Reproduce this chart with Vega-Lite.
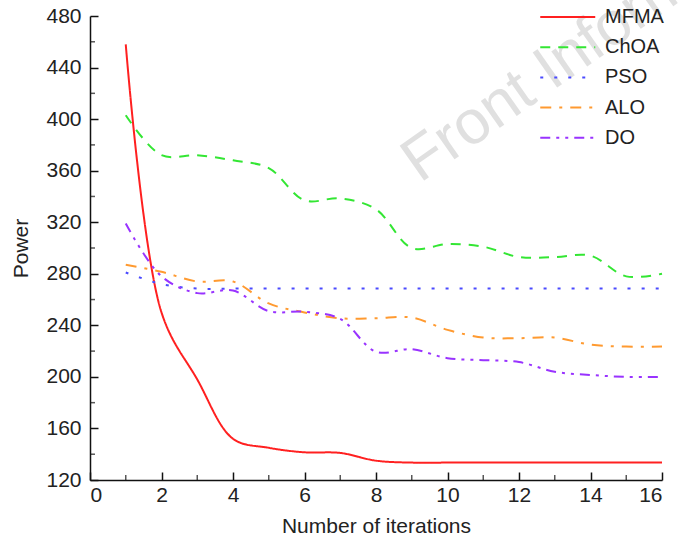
{
  "$schema": "https://vega.github.io/schema/vega-lite/v6.json",
  "width": 572,
  "height": 464,
  "autosize": {"type": "none"},
  "padding": {"left": 90, "top": 16, "right": 16, "bottom": 59},
  "background": "white",
  "config": {
    "view": {"stroke": null},
    "font": "Liberation Sans",
    "axis": {
      "grid": false,
      "domainColor": "#111",
      "domainWidth": 1.5,
      "tickColor": "#111",
      "tickWidth": 1.5,
      "tickSize": -8,
      "labelFont": "Liberation Sans",
      "labelFontSize": 21,
      "labelColor": "#222",
      "titleFont": "Liberation Sans",
      "titleFontSize": 21,
      "titleFontWeight": "normal",
      "titleColor": "#222"
    }
  },
  "datasets": {
    "series": [
      {"iter": 1, "power": 458, "alg": "MFMA"},
      {"iter": 2, "power": 250, "alg": "MFMA"},
      {"iter": 3, "power": 198, "alg": "MFMA"},
      {"iter": 4, "power": 152, "alg": "MFMA"},
      {"iter": 5, "power": 145, "alg": "MFMA"},
      {"iter": 6, "power": 141.5, "alg": "MFMA"},
      {"iter": 7, "power": 141, "alg": "MFMA"},
      {"iter": 8, "power": 135, "alg": "MFMA"},
      {"iter": 9, "power": 133.5, "alg": "MFMA"},
      {"iter": 10, "power": 133.5, "alg": "MFMA"},
      {"iter": 11, "power": 133.5, "alg": "MFMA"},
      {"iter": 12, "power": 133.5, "alg": "MFMA"},
      {"iter": 13, "power": 133.5, "alg": "MFMA"},
      {"iter": 14, "power": 133.5, "alg": "MFMA"},
      {"iter": 15, "power": 133.5, "alg": "MFMA"},
      {"iter": 16, "power": 133.5, "alg": "MFMA"},
      {"iter": 1, "power": 403, "alg": "ChOA"},
      {"iter": 2, "power": 372, "alg": "ChOA"},
      {"iter": 3, "power": 372, "alg": "ChOA"},
      {"iter": 4, "power": 368, "alg": "ChOA"},
      {"iter": 5, "power": 362, "alg": "ChOA"},
      {"iter": 6, "power": 337, "alg": "ChOA"},
      {"iter": 7, "power": 338.5, "alg": "ChOA"},
      {"iter": 8, "power": 330, "alg": "ChOA"},
      {"iter": 9, "power": 300, "alg": "ChOA"},
      {"iter": 10, "power": 303, "alg": "ChOA"},
      {"iter": 11, "power": 301, "alg": "ChOA"},
      {"iter": 12, "power": 293, "alg": "ChOA"},
      {"iter": 13, "power": 293, "alg": "ChOA"},
      {"iter": 14, "power": 294, "alg": "ChOA"},
      {"iter": 15, "power": 278, "alg": "ChOA"},
      {"iter": 16, "power": 280, "alg": "ChOA"},
      {"iter": 1, "power": 281, "alg": "PSO"},
      {"iter": 2, "power": 272, "alg": "PSO"},
      {"iter": 3, "power": 268.5, "alg": "PSO"},
      {"iter": 4, "power": 268.5, "alg": "PSO"},
      {"iter": 5, "power": 268.5, "alg": "PSO"},
      {"iter": 6, "power": 268.5, "alg": "PSO"},
      {"iter": 7, "power": 268.5, "alg": "PSO"},
      {"iter": 8, "power": 268.5, "alg": "PSO"},
      {"iter": 9, "power": 268.5, "alg": "PSO"},
      {"iter": 10, "power": 268.5, "alg": "PSO"},
      {"iter": 11, "power": 268.5, "alg": "PSO"},
      {"iter": 12, "power": 268.5, "alg": "PSO"},
      {"iter": 13, "power": 268.5, "alg": "PSO"},
      {"iter": 14, "power": 268.5, "alg": "PSO"},
      {"iter": 15, "power": 268.5, "alg": "PSO"},
      {"iter": 16, "power": 268.5, "alg": "PSO"},
      {"iter": 1, "power": 287, "alg": "ALO"},
      {"iter": 2, "power": 281.5, "alg": "ALO"},
      {"iter": 3, "power": 274, "alg": "ALO"},
      {"iter": 4, "power": 274, "alg": "ALO"},
      {"iter": 5, "power": 257, "alg": "ALO"},
      {"iter": 6, "power": 250, "alg": "ALO"},
      {"iter": 7, "power": 245.5, "alg": "ALO"},
      {"iter": 8, "power": 245.5, "alg": "ALO"},
      {"iter": 9, "power": 246, "alg": "ALO"},
      {"iter": 10, "power": 236.5, "alg": "ALO"},
      {"iter": 11, "power": 230.5, "alg": "ALO"},
      {"iter": 12, "power": 230, "alg": "ALO"},
      {"iter": 13, "power": 230.5, "alg": "ALO"},
      {"iter": 14, "power": 225, "alg": "ALO"},
      {"iter": 15, "power": 223.5, "alg": "ALO"},
      {"iter": 16, "power": 223.5, "alg": "ALO"},
      {"iter": 1, "power": 319, "alg": "DO"},
      {"iter": 2, "power": 278, "alg": "DO"},
      {"iter": 3, "power": 265, "alg": "DO"},
      {"iter": 4, "power": 267, "alg": "DO"},
      {"iter": 5, "power": 251, "alg": "DO"},
      {"iter": 6, "power": 250.5, "alg": "DO"},
      {"iter": 7, "power": 245, "alg": "DO"},
      {"iter": 8, "power": 219.5, "alg": "DO"},
      {"iter": 9, "power": 221.5, "alg": "DO"},
      {"iter": 10, "power": 214.5, "alg": "DO"},
      {"iter": 11, "power": 213, "alg": "DO"},
      {"iter": 12, "power": 211.5, "alg": "DO"},
      {"iter": 13, "power": 204, "alg": "DO"},
      {"iter": 14, "power": 201.5, "alg": "DO"},
      {"iter": 15, "power": 200, "alg": "DO"},
      {"iter": 16, "power": 200, "alg": "DO"}
    ],
    "xminor": [{"m": 1}, {"m": 3}, {"m": 5}, {"m": 7}, {"m": 9}, {"m": 11}, {"m": 13}, {"m": 15}],
    "yminor": [{"m": 140}, {"m": 180}, {"m": 220}, {"m": 260}, {"m": 300}, {"m": 340}, {"m": 380}, {"m": 420}, {"m": 460}],
    "mark": [{"label": "Front Inform"}]
  },
  "layer": [
    {
      "data": {"name": "mark"},
      "mark": {"type": "text", "align": "left", "baseline": "alphabetic", "angle": -35, "fontSize": 62, "color": "#e0e0e0", "font": "Liberation Sans"},
      "encoding": {
        "x": {"datum": 9.23},
        "y": {"datum": 350},
        "text": {"field": "label"}
      }
    },
    {
      "data": {"name": "series"},
      "mark": {"type": "line", "interpolate": "catmull-rom", "strokeWidth": 2},
      "encoding": {
        "x": {
          "field": "iter", "type": "quantitative",
          "scale": {"domain": [0, 16], "nice": false},
          "axis": {"values": [0, 2, 4, 6, 8, 10, 12, 14, 16], "title": "Number of iterations", "labelPadding": 12, "titlePadding": 10}
        },
        "y": {
          "field": "power", "type": "quantitative",
          "scale": {"domain": [120, 480], "nice": false, "zero": false},
          "axis": {"values": [120, 160, 200, 240, 280, 320, 360, 400, 440, 480], "title": "Power", "labelPadding": 17, "titlePadding": 14}
        },
        "color": {
          "field": "alg", "type": "nominal", "title": null,
          "scale": {"domain": ["MFMA", "ChOA", "PSO", "ALO", "DO"], "range": ["#ff2020", "#33e633", "#4a4aff", "#ff9a30", "#9933ff"]},
          "legend": {
            "orient": "none", "legendX": 449, "legendY": -14,
            "symbolType": "M-1,0H3", "symbolSize": 756, "symbolStrokeWidth": 2,
            "labelFontSize": 20, "labelColor": "#222", "labelFont": "Liberation Sans",
            "rowPadding": 5.2, "labelOffset": 36
          }
        },
        "strokeDash": {
          "field": "alg", "type": "nominal", "title": null,
          "scale": {"domain": ["MFMA", "ChOA", "PSO", "ALO", "DO"], "range": [[1, 0], [10, 8], [3, 11], [11, 8, 3, 8], [10, 6, 3, 6, 3, 6]]}
        }
      }
    },
    {
      "data": {"name": "xminor"},
      "mark": {"type": "tick", "orient": "vertical", "size": 5, "thickness": 1.5, "color": "#111", "yOffset": -2.5},
      "encoding": {
        "x": {"field": "m", "type": "quantitative"},
        "y": {"datum": 120}
      }
    },
    {
      "data": {"name": "yminor"},
      "mark": {"type": "tick", "orient": "horizontal", "size": 5, "thickness": 1.5, "color": "#111", "xOffset": 2.5},
      "encoding": {
        "y": {"field": "m", "type": "quantitative"},
        "x": {"datum": 0}
      }
    }
  ]
}
